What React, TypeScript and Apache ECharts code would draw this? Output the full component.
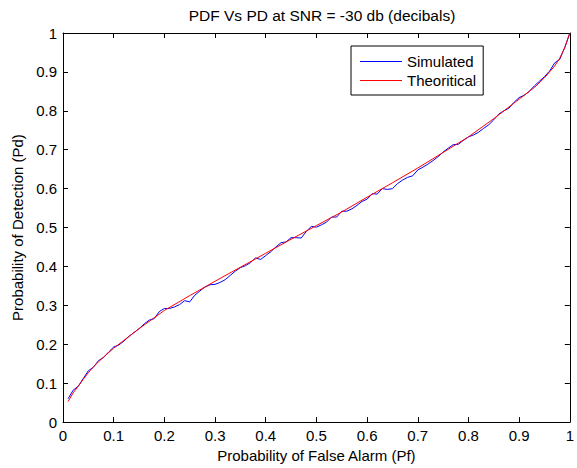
import React, { useEffect, useRef } from "react";
import * as echarts from "echarts";

const titleText = "PDF Vs PD at SNR = -30 db (decibals)";
const xName = "Probability of False Alarm (Pf)";
const yName = "Probability of Detection (Pd)";

const simX = [
  0.01, 0.02, 0.03, 0.04, 0.05, 0.06, 0.07, 0.08, 0.09, 0.1,
  0.11, 0.12, 0.13, 0.14, 0.15, 0.16, 0.17, 0.18, 0.19, 0.2,
  0.21, 0.22, 0.23, 0.24, 0.25, 0.26, 0.27, 0.28, 0.29, 0.3,
  0.31, 0.32, 0.33, 0.34, 0.35, 0.36, 0.37, 0.38, 0.39, 0.4,
  0.41, 0.42, 0.43, 0.44, 0.45, 0.46, 0.47, 0.48, 0.49, 0.5,
  0.51, 0.52, 0.53, 0.54, 0.55, 0.56, 0.57, 0.58, 0.59, 0.6,
  0.61, 0.62, 0.63, 0.64, 0.65, 0.66, 0.67, 0.68, 0.69, 0.7,
  0.71, 0.72, 0.73, 0.74, 0.75, 0.76, 0.77, 0.78, 0.79, 0.8,
  0.81, 0.82, 0.83, 0.84, 0.85, 0.86, 0.87, 0.88, 0.89, 0.9,
  0.91, 0.92, 0.93, 0.94, 0.95, 0.96, 0.97, 0.98, 0.99, 1.0,
];
const simY = [
  0.06, 0.082, 0.092, 0.112, 0.132, 0.141, 0.158, 0.166, 0.18, 0.193,
  0.198, 0.208, 0.22, 0.23, 0.24, 0.252, 0.262, 0.266, 0.284, 0.292,
  0.292, 0.296, 0.302, 0.312, 0.309, 0.326, 0.337, 0.347, 0.353, 0.354,
  0.359, 0.366, 0.377, 0.388, 0.397, 0.402, 0.41, 0.422, 0.418, 0.428,
  0.438, 0.45, 0.461, 0.463, 0.474, 0.474, 0.473, 0.49, 0.503, 0.501,
  0.507, 0.514, 0.527, 0.527, 0.542, 0.542, 0.548, 0.557, 0.567, 0.573,
  0.587, 0.586, 0.6, 0.598, 0.6, 0.613, 0.622, 0.629, 0.633, 0.648,
  0.655, 0.663, 0.672, 0.682, 0.694, 0.704, 0.713, 0.714, 0.724, 0.733,
  0.738, 0.745, 0.755, 0.764, 0.777, 0.792, 0.8, 0.807, 0.822, 0.834,
  0.84, 0.85, 0.864, 0.876, 0.888, 0.902, 0.923, 0.932, 0.963, 1.0,
];

const theoX = [
  0.01, 0.02, 0.03, 0.04, 0.05, 0.06, 0.07, 0.08, 0.1, 0.12, 0.15, 0.2,
  0.25, 0.3, 0.35, 0.4, 0.45, 0.5, 0.55, 0.6, 0.65, 0.7, 0.75, 0.8,
  0.85, 0.9, 0.93, 0.95, 0.97, 0.98, 0.99, 1.0,
];
const theoY = [
  0.053, 0.075, 0.092, 0.11, 0.127, 0.142, 0.155, 0.167, 0.19, 0.21, 0.24, 0.287,
  0.325, 0.362, 0.398, 0.434, 0.47, 0.505, 0.54, 0.578, 0.615, 0.653, 0.693, 0.733,
  0.78, 0.83, 0.86, 0.885, 0.915, 0.935, 0.962, 1.0,
];

const FONT = "Liberation Sans";
const FS = 15;
const LINE_ICON = "path://M0,0 L42,0 L42,1 L0,1 Z";

export default function App() {
  const ref = useRef<HTMLDivElement>(null);
  useEffect(() => {
    if (!ref.current) return;
    const chart = echarts.init(ref.current, undefined, { renderer: "svg" });
    const axisCommon = {
      type: "value" as const,
      min: 0,
      max: 1,
      interval: 0.1,
      splitLine: { show: false },
      axisLine: { show: true, onZero: false, lineStyle: { color: "#000", width: 1 } },
      axisTick: { show: true, inside: true, length: 5, lineStyle: { color: "#000", width: 1 } },
    };
    chart.setOption({
      animation: false,
      backgroundColor: "#fff",
      title: {
        text: titleText,
        left: 317,
        textAlign: "center",
        top: 2,
        textStyle: { fontFamily: FONT, fontSize: 15.5, fontWeight: "normal", color: "#000" },
      },
      grid: { left: 63, right: 7, top: 33, bottom: 45, containLabel: false },
      legend: {
        orient: "vertical",
        left: 351,
        top: 46,
        padding: [8, 7, 7, 9],
        itemWidth: 42,
        itemHeight: 14,
        itemGap: 4,
        symbolKeepAspect: true,
        backgroundColor: "#fff",
        borderColor: "#000",
        borderWidth: 1,
        borderRadius: 0,
        textStyle: { fontFamily: FONT, fontSize: FS, color: "#000" },
        data: [
          { name: "Simulated", icon: LINE_ICON },
          { name: "Theoritical", icon: LINE_ICON },
        ],
      },
      xAxis: [
        {
          ...axisCommon,
          position: "bottom",
          name: xName,
          nameLocation: "middle",
          nameGap: 21,
          nameTextStyle: { fontFamily: FONT, fontSize: FS, color: "#000" },
          axisLabel: { fontFamily: FONT, fontSize: FS, color: "#000", margin: 6 },
        },
        {
          ...axisCommon,
          position: "top",
          axisLabel: { show: false },
        },
      ],
      yAxis: [
        {
          ...axisCommon,
          position: "left",
          name: yName,
          nameLocation: "middle",
          nameGap: 35,
          nameTextStyle: { fontFamily: FONT, fontSize: FS, color: "#000" },
          axisLabel: { fontFamily: FONT, fontSize: FS, color: "#000", margin: 6 },
        },
        {
          ...axisCommon,
          position: "right",
          axisLabel: { show: false },
        },
      ],
      series: [
        {
          name: "Simulated",
          type: "line",
          xAxisIndex: 0,
          yAxisIndex: 0,
          symbol: "none",
          showSymbol: false,
          lineStyle: { color: "#0000ff", width: 1 },
          itemStyle: { color: "#0000ff" },
          data: simX.map((x, i) => [x, simY[i]]),
        },
        {
          name: "Theoritical",
          type: "line",
          xAxisIndex: 0,
          yAxisIndex: 0,
          symbol: "none",
          showSymbol: false,
          lineStyle: { color: "#ff0000", width: 1 },
          itemStyle: { color: "#ff0000" },
          data: theoX.map((x, i) => [x, theoY[i]]),
        },
      ],
    });
    return () => chart.dispose();
  }, []);
  return <div ref={ref} style={{ width: 577, height: 468, position: "absolute", left: 0, top: 0 }} />;
}
